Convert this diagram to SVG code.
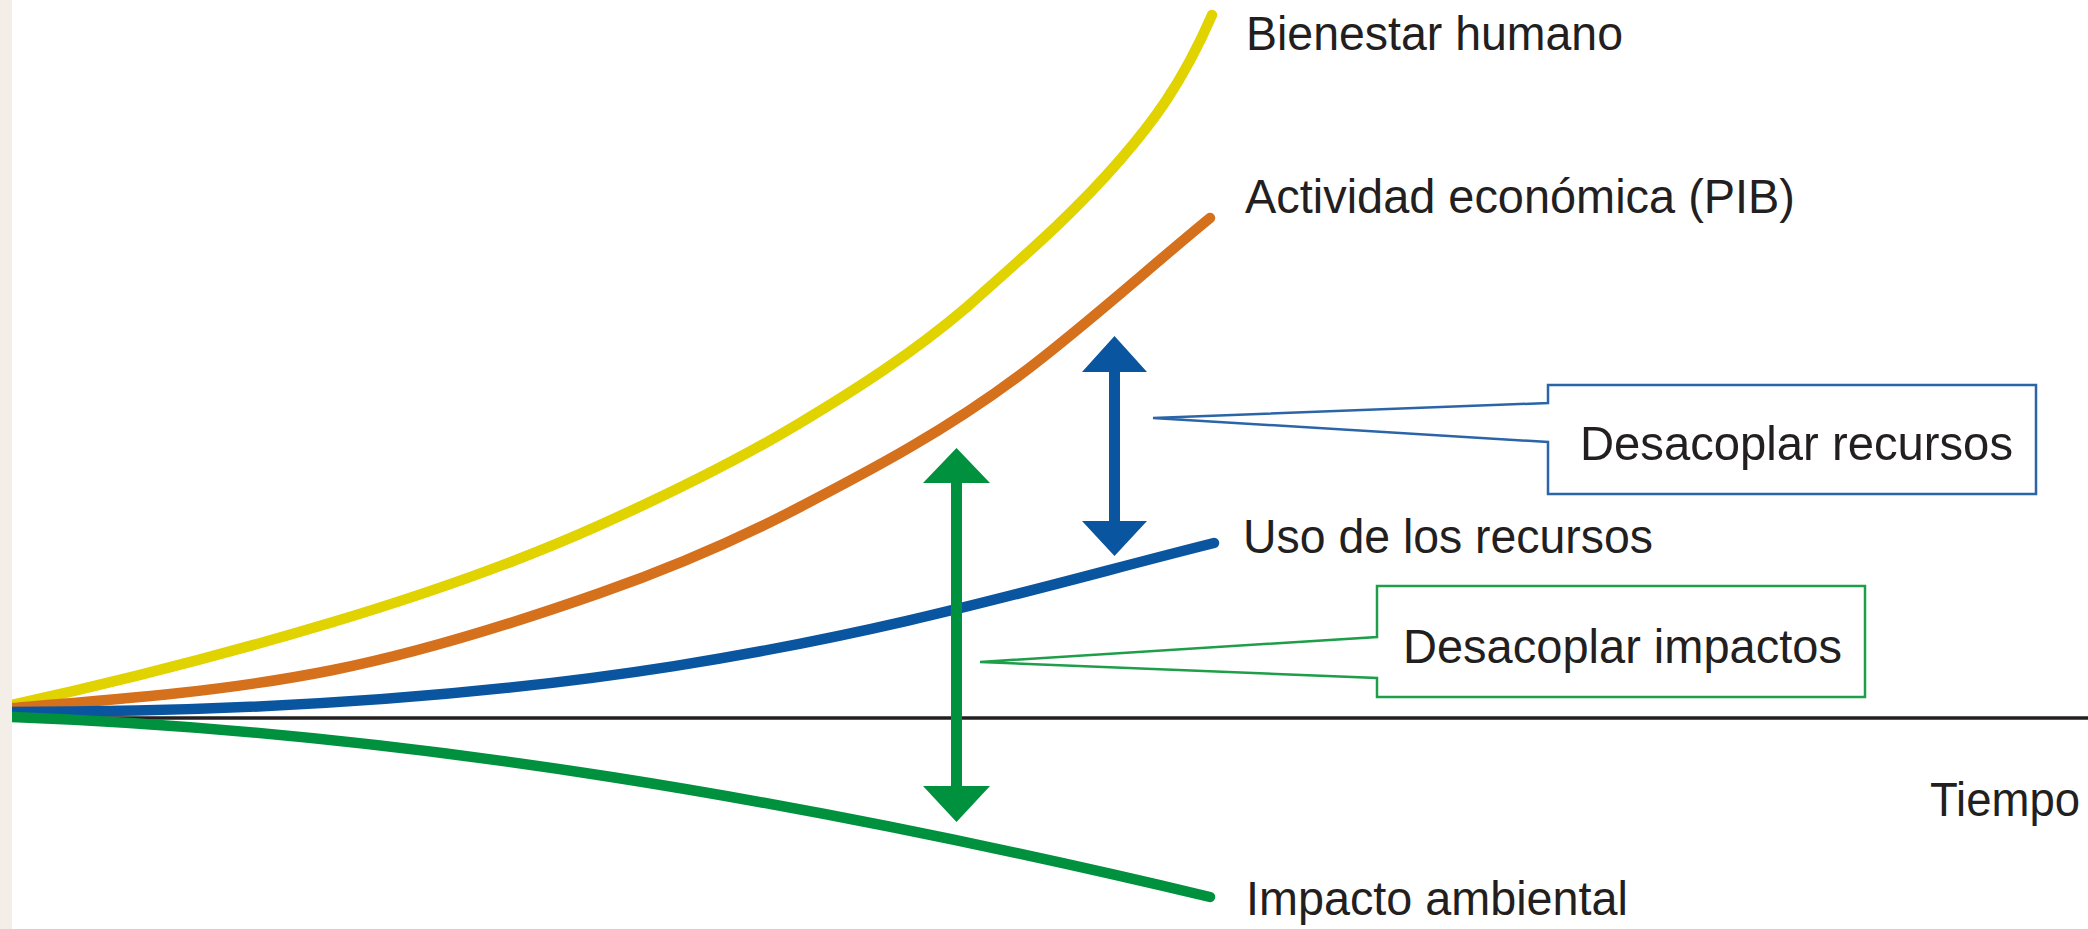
<svg xmlns="http://www.w3.org/2000/svg" width="2088" height="929" viewBox="0 0 2088 929">
  <style>
    .lbl { font-family: "Liberation Sans Narrow", "Liberation Sans", Arial, sans-serif; font-size: 49px; fill: #231f20; }
    .curve { fill: none; stroke-width: 10.5; stroke-linecap: round; stroke-linejoin: round; }
    .callout { fill: #ffffff; stroke-width: 2.5; stroke-linejoin: miter; }
  </style>
  <rect x="0" y="0" width="2088" height="929" fill="#ffffff"/>

  <g id="axis">
    <line x1="12" y1="718" x2="2088" y2="718" stroke="#231f20" stroke-width="3.5"/>
    <text class="lbl" x="1930" y="816" textLength="150" lengthAdjust="spacingAndGlyphs">Tiempo</text>
  </g>

  <g id="bienestar-humano">
    <path class="curve" stroke="#e0d300" d="M12,705 C119,681.5 226,654.1 333,622 C422,595.3 511,565 600,525 C666.7,495 733.3,463 800,423 C855.7,389.6 911.3,354.3 967,307 C1018,261.1 1069,218.7 1120,160 C1150.7,124.7 1181.3,85.6 1212,15"/>
    <text class="lbl" x="1246" y="50" textLength="377" lengthAdjust="spacingAndGlyphs">Bienestar humano</text>
  </g>

  <g id="actividad-economica">
    <path class="curve" stroke="#d5701c" d="M12,708 C119,699.4 226,691.4 333,670 C422,652.2 511,624.2 600,593 C666.7,569.7 733.3,541.7 800,507 C873.3,468.9 946.7,430 1020,375 C1083.3,327.5 1146.7,269.9 1210,218"/>
    <text class="lbl" x="1245" y="213" textLength="550" lengthAdjust="spacingAndGlyphs">Actividad económica (PIB)</text>
  </g>

  <g id="uso-recursos">
    <path class="curve" stroke="#0a559f" d="M12,712 C650,712 934,613 1214,543"/>
    <text class="lbl" x="1243" y="553" textLength="410" lengthAdjust="spacingAndGlyphs">Uso de los recursos</text>
  </g>

  <g id="impacto-ambiental">
    <path class="curve" stroke="#00913f" d="M12,717 C412,732 811,802 1210,897"/>
    <text class="lbl" x="1246" y="915" textLength="382" lengthAdjust="spacingAndGlyphs">Impacto ambiental</text>
  </g>

  <rect id="left-strip" x="0" y="0" width="12" height="929" fill="#f3efe8"/>

  <g id="connectors">
    <path id="arrow-recursos" fill="#0a559f" d="M1114.5,336 L1147,372 L1120,372 L1120,521 L1147,521 L1114.5,556 L1082,521 L1109,521 L1109,372 L1082,372 Z"/>
    <path id="arrow-impactos" fill="#00913f" d="M956.5,448 L990,483 L962,483 L962,786 L990,786 L956.5,822 L923,786 L951,786 L951,483 L923,483 Z"/>
  </g>

  <g id="callout-recursos">
    <path class="callout" stroke="#2b65a8" d="M1548,403 L1548,385 L2036,385 L2036,494 L1548,494 L1548,442 L1153,418 Z"/>
    <text class="lbl" x="1580" y="460" textLength="433" lengthAdjust="spacingAndGlyphs">Desacoplar recursos</text>
  </g>

  <g id="callout-impactos">
    <path class="callout" stroke="#1f9e4a" d="M1377,637 L1377,586 L1865,586 L1865,697 L1377,697 L1377,678 L980,662 Z"/>
    <text class="lbl" x="1403" y="663" textLength="439" lengthAdjust="spacingAndGlyphs">Desacoplar impactos</text>
  </g>
</svg>
